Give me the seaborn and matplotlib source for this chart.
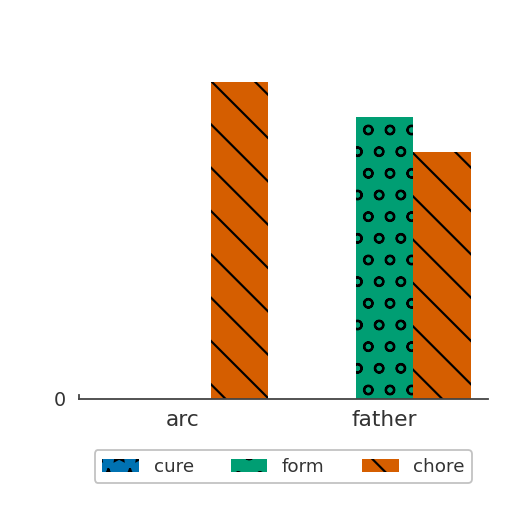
import matplotlib
matplotlib.use("Agg")
import matplotlib.pyplot as plt
import seaborn as sns
import pandas as pd

# Chart data
categories = ["arc", "father"]
hue_levels = ["cure", "form", "chore"]
cure = [0, 0]
form = [0, 8]
chore = [9, 7]

colors = ["#0072B2", "#009E73", "#D55E00"]
hatches = ["**", "oo", "\\\\"]

df = pd.DataFrame({
    "category": categories * len(hue_levels),
    "series": [h for h in hue_levels for _ in categories],
    "value": cure + form + chore,
})

sns.set_style("white")
plt.rcParams["font.family"] = ["DejaVu Sans"]
plt.rcParams["hatch.linewidth"] = 0.6

DPI = 260
fig = plt.figure(figsize=(512 / DPI, 512 / DPI), dpi=DPI)
ax = fig.add_axes([0.154, 0.221, 0.799, 0.66])

sns.barplot(data=df, x="category", y="value", hue="series",
            order=categories, hue_order=hue_levels, palette=colors,
            width=0.85, saturation=1, edgecolor="black", linewidth=0,
            errorbar=None, legend=False, ax=ax)

# hatch each series
for container, hatch in zip(ax.containers, hatches):
    for bar in container:
        bar.set_hatch(hatch)

ax.set_xlim(-0.51, 1.51)
ax.set_ylim(0, 9.6)
ax.set_yticks([0])
ax.set_xlabel("")
ax.set_ylabel("")

for side in ["top", "right"]:
    ax.spines[side].set_visible(False)
ax.spines["left"].set_bounds(0, 0.12)
for side in ["left", "bottom"]:
    ax.spines[side].set_color("#444444")
    ax.spines[side].set_linewidth(0.5)

ax.tick_params(axis="x", length=1.2, width=0.4, pad=2, labelsize=6.0, colors="#333333")
ax.tick_params(axis="y", length=1.7, width=0.4, pad=2, labelsize=5.3, colors="#333333")

leg = ax.legend(ax.containers, hue_levels, loc="upper center",
                bbox_to_anchor=(0.5, -0.125), ncol=3, fontsize=5.1,
                frameon=True, fancybox=True)
leg.get_frame().set_edgecolor("0.7")
leg.get_frame().set_linewidth(0.5)
for t in leg.get_texts():
    t.set_color("#333333")

fig.savefig("out.png", dpi=DPI)
